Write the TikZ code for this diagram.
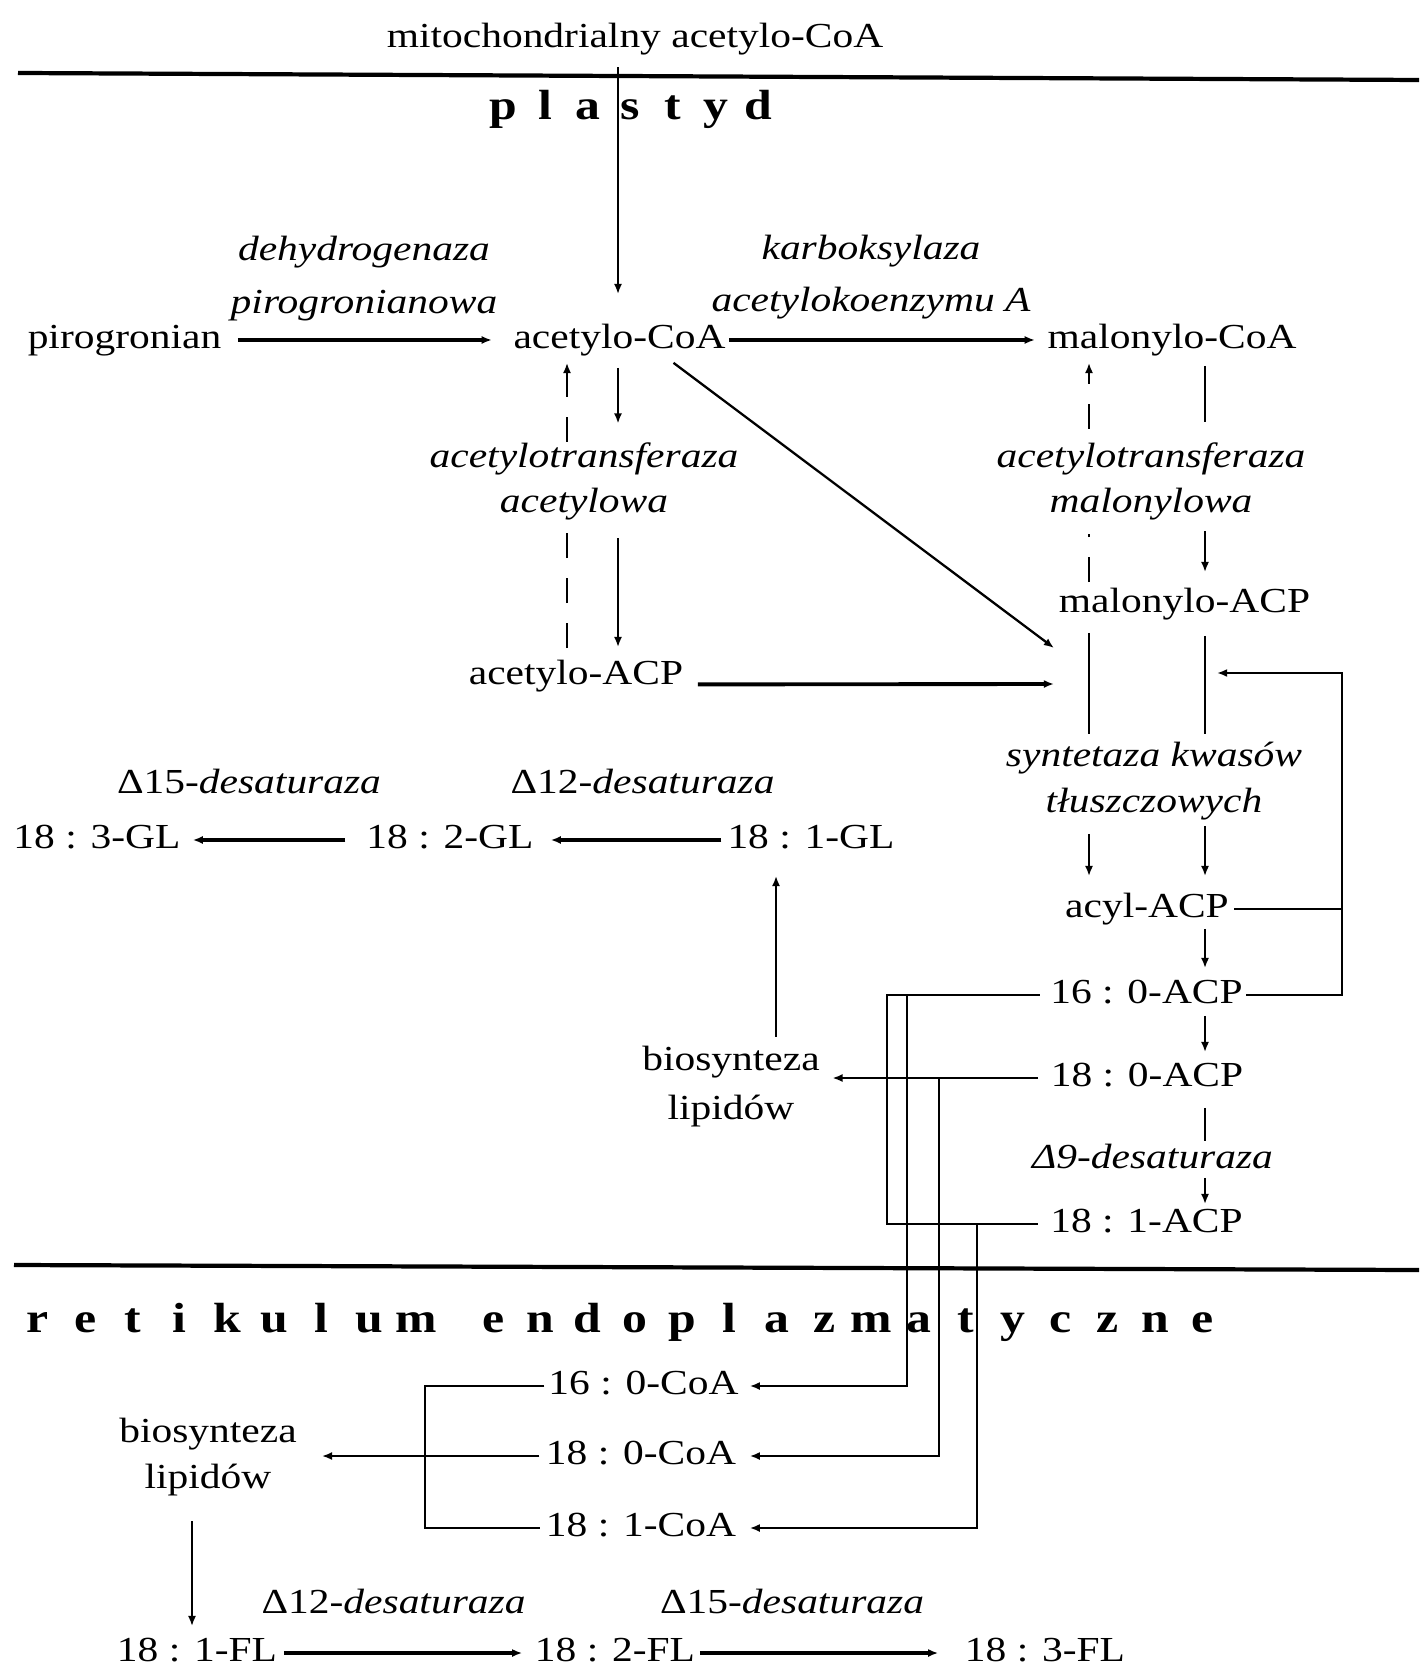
\documentclass[tikz,border=0pt]{standalone}
\usepackage{fontspec}
\setmainfont{Liberation Serif}[FakeStretch=1.18]
\usepackage{tikz}
\usetikzlibrary{arrows.meta}
\usetikzlibrary{calc}

\newcommand\litery[2]{\def\literapitch{#1}\literaloop#2\relax}
\def\literaloop#1{\ifx#1\relax\else\makebox[\literapitch]{#1}\expandafter\literaloop\fi}

\begin{document}
\begin{tikzpicture}[x=0.1mm,y=-0.1mm,>={Latex[length=2.9pt,width=2.3pt]},
  lbl/.style={inner sep=0pt,text height=7pt,text depth=2.2pt,font=\fontsize{10}{12}\selectfont},
  enz/.style={inner sep=0pt,align=center,font=\fontsize{10}{13}\selectfont\itshape},
  enzwys/.style={enz,font=\fontsize{10}{15}\selectfont\itshape},
  lip/.style={inner sep=0pt,align=center,font=\fontsize{10}{#1}\selectfont},
  tytul/.style={inner sep=0pt,anchor=base,font=\fontsize{12}{14}\selectfont\bfseries},
  cienka/.style={line width=0.65pt},
  gruba/.style={line width=1.1pt},
  przer/.style={dash pattern=on 2.5mm off 2mm},
  granica/.style={line width=1.2pt}]
\useasboundingbox (0,0) rectangle (1419,1668);
\coordinate (kA) at (567,0);
\coordinate (kB) at (618,0);
\coordinate (kC) at (1089,0);
\coordinate (kD) at (1205,0);
\coordinate (kE) at (192,0);
\coordinate (up) at (776,0);
\coordinate (s1) at (887,0);
\coordinate (s2) at (907,0);
\coordinate (s3) at (939,0);
\coordinate (s4) at (977,0);
\coordinate (br) at (425,0);
\coordinate (fb) at (1342,673);
\coordinate (fbend) at (1217,673);
\coordinate (dgend) at (1054,648);
\coordinate (acpend) at (1054,684);

\node[lbl] (mito) at (635,38.6) {mitochondrialny acetylo-CoA};
\node[tytul] (plast) at (630.5,120) {\litery{4.25mm}{plastyd}};
\node[tytul] (ret) at (227,1332) {\litery{4.73mm}{retikulum}};
\node[tytul] (endo) at (847.8,1332) {\litery{4.73mm}{endoplazmatyczne}};

\node[lbl] (pyr) at (124.5,340) {pirogronian};
\node[lbl] (acoa) at (619.5,340) {acetylo-CoA};
\node[lbl] (maloa) at (1172,340) {malonylo-CoA};
\node[enzwys] (pdh) at (364,278.3) {dehydrogenaza\\pirogronianowa};
\node[enzwys] (acc) at (871,277) {karboksylaza\\acetylokoenzymu A};
\node[enz] (atr) at (584,481.3) {acetylotransferaza\\acetylowa};
\node[enz] (mtr) at (1151,481.3) {acetylotransferaza\\malonylowa};
\node[lbl] (aacp) at (576,676) {acetylo-ACP};
\node[lbl] (macp) at (1184.5,604) {malonylo-ACP};
\node[enz] (fas) at (1154,781.3) {syntetaza kwasów\\tłuszczowych};
\node[lbl] (acyl) at (1147,909) {acyl-ACP};
\node[lbl] (acp16) at (1146.5,995) {16 : 0-ACP};
\node[lbl] (acp18) at (1147,1078) {18 : 0-ACP};
\node[lbl,font=\fontsize{10}{12}\selectfont\itshape] (d9) at (1152.5,1160) {Δ9-desaturaza};
\node[lbl] (acp181) at (1146.5,1224) {18 : 1-ACP};

\node[lbl] (gl3) at (97,840) {18 : 3-GL};
\node[lbl] (gl2) at (450,840) {18 : 2-GL};
\node[lbl] (gl1) at (811,840) {18 : 1-GL};
\node[lbl] (d15gl) at (249,785) {Δ15-\textit{desaturaza}};
\node[lbl] (d12gl) at (642.5,785) {Δ12-\textit{desaturaza}};
\node[lip=14] (lip1) at (731,1086.8) {biosynteza\\lipidów};

\node[lbl] (coa16) at (643.5,1386) {16 : 0-CoA};
\node[lbl] (coa18) at (641,1456) {18 : 0-CoA};
\node[lbl] (coa181) at (641,1528) {18 : 1-CoA};
\node[lip=13] (lip2) at (208,1457) {biosynteza\\lipidów};
\node[lbl] (d12fl) at (393.5,1605) {Δ12-\textit{desaturaza}};
\node[lbl] (d15fl) at (792,1605) {Δ15-\textit{desaturaza}};
\node[lbl] (fl1) at (197,1653) {18 : 1-FL};
\node[lbl] (fl2) at (615,1653) {18 : 2-FL};
\node[lbl] (fl3) at (1045,1653) {18 : 3-FL};

\draw[granica] (18,73) -- (1419,80);
\draw[granica] (14,1265) -- (1419,1270);

\draw[cienka,->,shorten <=1.2mm,shorten >=2.9mm] (mito.south -| kB) -- (acoa.north -| kB);
\draw[gruba,->,shorten <=1.6mm,shorten >=2.1mm] (pyr.east) -- (acoa.west);
\draw[gruba,->,shorten <=0.3mm,shorten >=1.2mm] (acoa.east) -- (maloa.west);
\draw[cienka,przer,->,shorten >=0.6mm] (atr.north -| kA) -- (acoa.south -| kA);
\draw[cienka,przer,shorten <=1.1mm,shorten >=1.2mm] (aacp.north -| kA) -- (atr.south -| kA);
\draw[cienka,->,shorten <=1.1mm,shorten >=1.8mm] (acoa.south -| kB) -- (atr.north -| kB);
\draw[cienka,->,shorten <=1.7mm,shorten >=1.2mm] (atr.south -| kB) -- (aacp.north -| kB);
\draw[cienka,->] ([shift={(54,6)}]acoa.south) -- (dgend);
\draw[gruba,->,shorten <=1.4mm] (aacp.base east) -- (acpend);

\draw[cienka,przer,->,shorten <=1.3mm,shorten >=0.6mm] (mtr.north -| kC) -- (maloa.south -| kC);
\draw[cienka,przer,shorten <=0.5mm,shorten >=1.3mm] (macp.north -| kC) -- (mtr.south -| kC);
\draw[cienka,shorten <=0.9mm,shorten >=2mm] (maloa.south -| kD) -- (mtr.north -| kD);
\draw[cienka,->,shorten <=1mm,shorten >=1.5mm] (mtr.south -| kD) -- (macp.north -| kD);
\draw[cienka,shorten <=1.2mm,shorten >=0.8mm] (macp.south -| kC) -- (fas.north -| kC);
\draw[cienka,shorten <=1.5mm,shorten >=0.8mm] (macp.south -| kD) -- (fas.north -| kD);
\draw[cienka,->,shorten <=1.3mm,shorten >=1.6mm] (fas.south -| kC) -- (acyl.north -| kC);
\draw[cienka,->,shorten <=0.5mm,shorten >=1.6mm] (fas.south -| kD) -- (acyl.north -| kD);

\draw[cienka,shorten <=0.45mm] (acyl.east) -- (acyl.east -| fb);
\draw[cienka,->,shorten <=0.3mm] (acp16.east) -| (fb) -- (fbend);
\draw[cienka,->,shorten <=0.3mm,shorten >=1mm] (acyl.south -| kD) -- (acp16.north -| kD);
\draw[cienka,->,shorten <=0.4mm,shorten >=0.9mm] (acp16.south -| kD) -- (acp18.north -| kD);
\draw[cienka,shorten <=1.3mm,shorten >=0.2mm] (acp18.south -| kD) -- (d9.north -| kD);
\draw[cienka,->,shorten <=0.1mm,shorten >=0.3mm] (d9.south -| kD) -- (acp181.north -| kD);

\draw[cienka,shorten <=1mm,shorten >=1.2mm] (acp16.west) -| (s1 |- acp181.west) -- (acp181.west);
\draw[cienka,->,shorten >=1.05mm] (s2 |- acp16.west) |- (coa16.east);
\draw[cienka,->,shorten >=1.3mm] (s3 |- acp18.west) |- (coa18.east);
\draw[cienka,->,shorten >=1.3mm] (s4 |- acp181.west) |- (coa181.east);
\draw[cienka,->,shorten <=1.2mm,shorten >=1.2mm] (acp18.west) -- (lip1.east |- acp18.west);

\draw[gruba,->,shorten <=0.55mm,shorten >=1.65mm] (gl1.west) -- (gl2.east);
\draw[gruba,->,shorten <=2.05mm,shorten >=1.15mm] (gl2.west) -- (gl3.east);
\draw[cienka,->,shorten <=0.9mm,shorten >=1.9mm] (lip1.north -| up) -- (gl1.south -| up);

\draw[cienka,shorten <=0.33mm,shorten >=0.48mm] (coa16.west) -| (br |- coa181.west) -- (coa181.west);
\draw[cienka,->,shorten <=0.58mm,shorten >=2.45mm] (coa18.west) -- (lip2.east |- coa18.west);
\draw[cienka,->,shorten <=2.5mm,shorten >=1mm] (lip2.south -| kE) -- (fl1.north -| kE);
\draw[gruba,->,shorten <=0.6mm,shorten >=1.2mm] (fl1.east) -- (fl2.west);
\draw[gruba,->,shorten <=0.4mm,shorten >=2.6mm] (fl2.east) -- (fl3.west);
\end{tikzpicture}
\end{document}
